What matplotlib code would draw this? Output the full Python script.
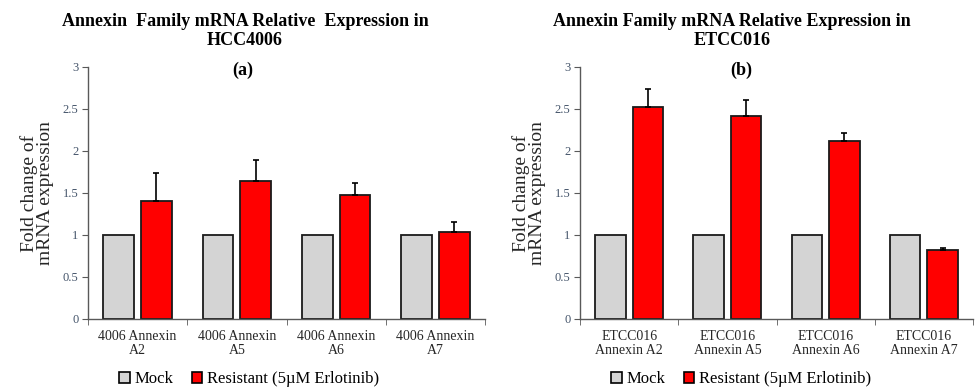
import matplotlib
matplotlib.use("Agg")
import matplotlib.pyplot as plt
from matplotlib.patches import Patch
import numpy as np

plt.rcParams['font.family'] = ['Liberation Serif', 'DejaVu Serif']

cats_a = ["4006 Annexin\nA2", "4006 Annexin\nA5", "4006 Annexin\nA6", "4006 Annexin\nA7"]
mock_a = [1, 1, 1, 1]
res_a = [1.40, 1.64, 1.48, 1.04]
err_a = [0.34, 0.25, 0.14, 0.12]

cats_b = ["ETCC016\nAnnexin A2", "ETCC016\nAnnexin A5", "ETCC016\nAnnexin A6", "ETCC016\nAnnexin A7"]
mock_b = [1, 1, 1, 1]
res_b = [2.52, 2.42, 2.12, 0.82]
err_b = [0.22, 0.19, 0.09, 0.02]

titles = ["Annexin  Family mRNA Relative  Expression in\nHCC4006",
          "Annexin Family mRNA Relative Expression in\nETCC016"]
panel_tags = ["(a)", "(b)"]
series_names = ["Mock", "Resistant (5\u00b5M Erlotinib)"]
yticks = [0, 0.5, 1, 1.5, 2, 2.5, 3]

MOCK_C = "#d4d4d4"
RED_C = "#ff0000"
TICK_C = "#44546a"
AX_C = "#595959"

W, H = 976, 389
fig = plt.figure(figsize=(W / 100, H / 100), dpi=100)
rects = [[88 / W, 0.18, 397 / W, 0.648], [580 / W, 0.18, 393 / W, 0.648]]
data = [(cats_a, mock_a, res_a, err_a), (cats_b, mock_b, res_b, err_b)]
title_x = [245 / W, 732 / W]
tag_x = [243 / W, 741 / W]
legend_x = [249 / W, 741 / W]

for i, (rect, (cats, mock, res, err)) in enumerate(zip(rects, data)):
    ax = fig.add_axes(rect)
    x = np.arange(len(cats))
    w = 0.31
    ax.bar(x - 0.19, mock, w, color=MOCK_C, edgecolor="#1a1a1a", linewidth=1.3, zorder=2)
    ax.bar(x + 0.19, res, w, color=RED_C, edgecolor="#1a1a1a", linewidth=1.3, zorder=2)
    ax.errorbar(x + 0.19, res, yerr=[np.zeros(len(err)), err], fmt="none",
                ecolor="black", elinewidth=1.2, capsize=2.5, capthick=1.2, zorder=3)
    ax.set_xlim(-0.5, 3.5)
    ax.set_ylim(0, 3)
    ax.set_yticks(yticks)
    ax.set_yticklabels([f"{t:g}" for t in yticks])
    ax.set_xticks(x)
    ax.set_xticklabels(cats, fontsize=10, color="#262626", linespacing=1.1)
    ax.set_xticks(np.arange(-0.5, 4, 1), minor=True)
    ax.tick_params(axis="x", which="major", length=0, pad=8)
    ax.tick_params(axis="x", which="minor", length=4, color=AX_C, direction="out")
    ax.tick_params(axis="y", length=4, color=AX_C, labelsize=9, labelcolor=TICK_C, pad=3)
    for s in ["top", "right"]:
        ax.spines[s].set_visible(False)
    for s in ["left", "bottom"]:
        ax.spines[s].set_color(AX_C)
        ax.spines[s].set_linewidth(1.0)
    ax.set_ylabel("Fold change of\nmRNA expression", fontsize=14, color="#262626",
                  linespacing=0.95, labelpad=6)
    fig.text(title_x[i], 1 - 31 / H, titles[i],
             ha="center", va="center", fontsize=13, fontweight="bold", linespacing=1.2)
    fig.text(tag_x[i], 1 - 70 / H, panel_tags[i],
             ha="center", va="center", fontsize=13, fontweight="bold")
    handles = [Patch(facecolor=MOCK_C, edgecolor="black", linewidth=1.2),
               Patch(facecolor=RED_C, edgecolor="black", linewidth=1.2)]
    fig.legend(handles, series_names, loc="center", ncol=2,
               bbox_to_anchor=(legend_x[i], 1 - 379 / H), frameon=False,
               fontsize=12, handlelength=0.65, handleheight=0.65, handletextpad=0.25,
               columnspacing=1.1, borderpad=0)

fig.savefig("out.png", dpi=100)
